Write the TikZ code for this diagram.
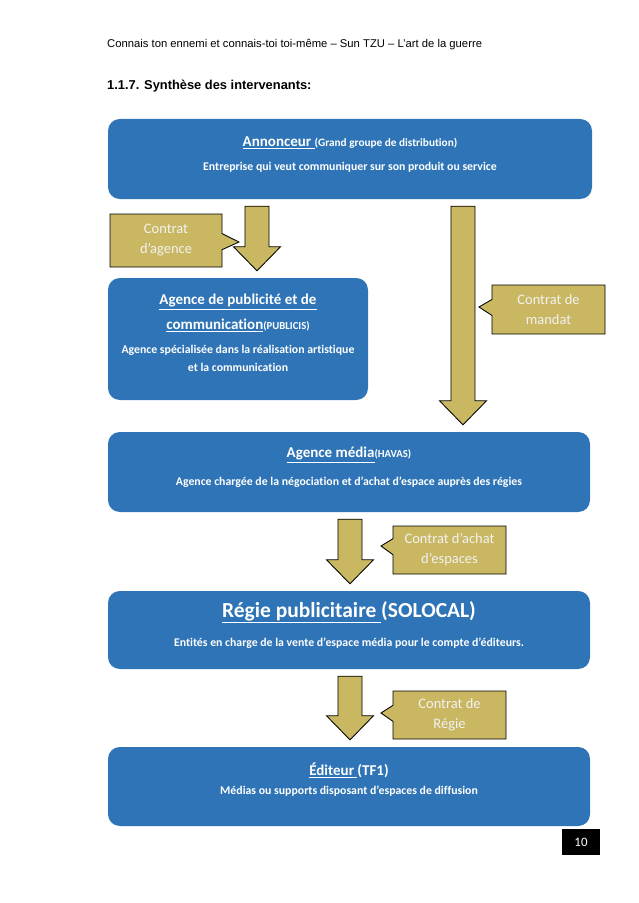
\documentclass[tikz,border=0pt]{standalone}
\usepackage{fontspec}
\setmainfont{Carlito}[Ligatures={TeX,CommonOff}]
\newfontfamily\headfont{Liberation Sans}
\usetikzlibrary{shapes.callouts,calc}
\definecolor{boxblue}{RGB}{46,116,182}
\definecolor{contratgold}{RGB}{201,183,98}
\newdimen\pxu \pxu=0.9326pt
\newcommand{\petit}{\fontsize{10}{12}\selectfont}
\tikzstyle{bluebox}=[rectangle,rounded corners=11pt,fill=boxblue,draw=none]
\tikzstyle{boxtitle}=[text=white,font=\bfseries\fontsize{14}{16}\selectfont,inner sep=0pt]
\tikzstyle{boxsub}=[text=white,font=\bfseries\fontsize{11}{13}\selectfont,inner sep=0pt]
\tikzstyle{contrat}=[rectangle callout,draw=black,fill=contratgold,text=white!95!black,font=\fontsize{13.5}{18.6}\selectfont,align=center,line width=0.8pt,callout pointer width=15pt,inner sep=0pt]
\tikzstyle{garrow}=[fill=contratgold,draw=black,line width=0.8pt]
% block arrow: x of the shaft, from node, to node
\newcommand{\contratarrow}[3]{%
  \draw[garrow] let \p0=(#1,0), \p1=(#2.south), \p2=(#3.north) in
    (\x0-11.2pt,\y1-6.5pt) -- (\x0+11.2pt,\y1-6.5pt) -- (\x0+11.2pt,\y2+28.9pt)
    -- (\x0+21.9pt,\y2+28.9pt) -- (\x0,\y2+6.5pt) -- (\x0-21.9pt,\y2+28.9pt)
    -- (\x0-11.2pt,\y2+28.9pt) -- cycle;}

\begin{document}
\begin{tikzpicture}[x=0.9326pt,y=-0.9326pt]
  \useasboundingbox (0,0) rectangle (638,903);

  % page head
  \node[anchor=west,inner sep=0pt,font=\headfont\fontsize{10.5}{12}\selectfont] (entete) at (107,45) {Connais ton ennemi et connais-toi toi-même – Sun TZU – L’art de la guerre};
  \node[anchor=west,inner sep=0pt,font=\headfont\bfseries\fontsize{12}{14}\selectfont] (titre) at (107,86) {1.1.7. Synthèse des intervenants:};

  % the five actors
  \node[bluebox,minimum width=484*\pxu,minimum height=80*\pxu] (ann) at (350,159) {};
  \node[boxtitle] (annT) at (350,143) {\underline{Annonceur }{\fontsize{10.5}{12}\selectfont(Grand groupe de distribution)}};
  \node[boxsub] (annS) at (350,167) {Entreprise qui veut communiquer sur son produit ou service};

  \node[bluebox,minimum width=260*\pxu,minimum height=122*\pxu] (pub) at (238,339) {};
  \node[boxtitle] (pubT) at (238,302) {\underline{Agence de publicité et de}};
  \node[boxtitle] (pubT2) at (238,325) {\underline{communication}{\petit(PUBLICIS)}};
  \node[boxsub] (pubS) at (238,350) {Agence spécialisée dans la réalisation artistique};
  \node[boxsub] (pubS2) at (238,367) {et la communication};

  \node[bluebox,minimum width=482*\pxu,minimum height=80*\pxu] (med) at (349,472) {};
  \node[boxtitle] (medT) at (349,455) {\underline{Agence média}{\petit(HAVAS)}};
  \node[boxsub] (medS) at (349,482) {Agence chargée de la négociation et d’achat d’espace auprès des régies};

  \node[bluebox,minimum width=482*\pxu,minimum height=78*\pxu] (reg) at (349,630) {};
  \node[boxtitle,font=\bfseries\fontsize{20}{24}\selectfont] (regT) at (349,612) {\underline{Régie publicitaire }(SOLOCAL)};
  \node[boxsub] (regS) at (349,643) {Entités en charge de la vente d’espace média pour le compte d’éditeurs.};

  \node[bluebox,minimum width=482*\pxu,minimum height=79*\pxu] (edi) at (349,786.5) {};
  \node[boxtitle] (ediT) at (349,770) {\underline{Éditeur }(TF1)};
  \node[boxsub] (ediS) at (349,791) {Médias ou supports disposant d’espaces de diffusion};

  % contracts
  \contratarrow{257}{ann}{pub}
  \contratarrow{463}{ann}{med}
  \contratarrow{350}{med}{reg}
  \contratarrow{350}{reg}{edi}

  \node[contrat,minimum width=112*\pxu,minimum height=53*\pxu,callout absolute pointer={(239,242)}] (cagence) at (166,240.5) {Contrat\\d’agence};
  \node[contrat,minimum width=113*\pxu,minimum height=49*\pxu,callout absolute pointer={(479,307)}] (cmandat) at (548.5,309.5) {Contrat de\\mandat};
  \node[contrat,minimum width=113*\pxu,minimum height=48*\pxu,callout absolute pointer={(381,546)}] (cachat) at (449.5,550) {Contrat d’achat\\d’espaces};
  \node[contrat,minimum width=113*\pxu,minimum height=48*\pxu,callout absolute pointer={(381,713)}] (cregie) at (449.5,715) {Contrat de\\Régie};

  % page number
  \node[fill=black,text=white,minimum width=38*\pxu,minimum height=26*\pxu,font=\fontsize{12}{14}\selectfont] (page) at (581,842) {10};
\end{tikzpicture}
\end{document}
